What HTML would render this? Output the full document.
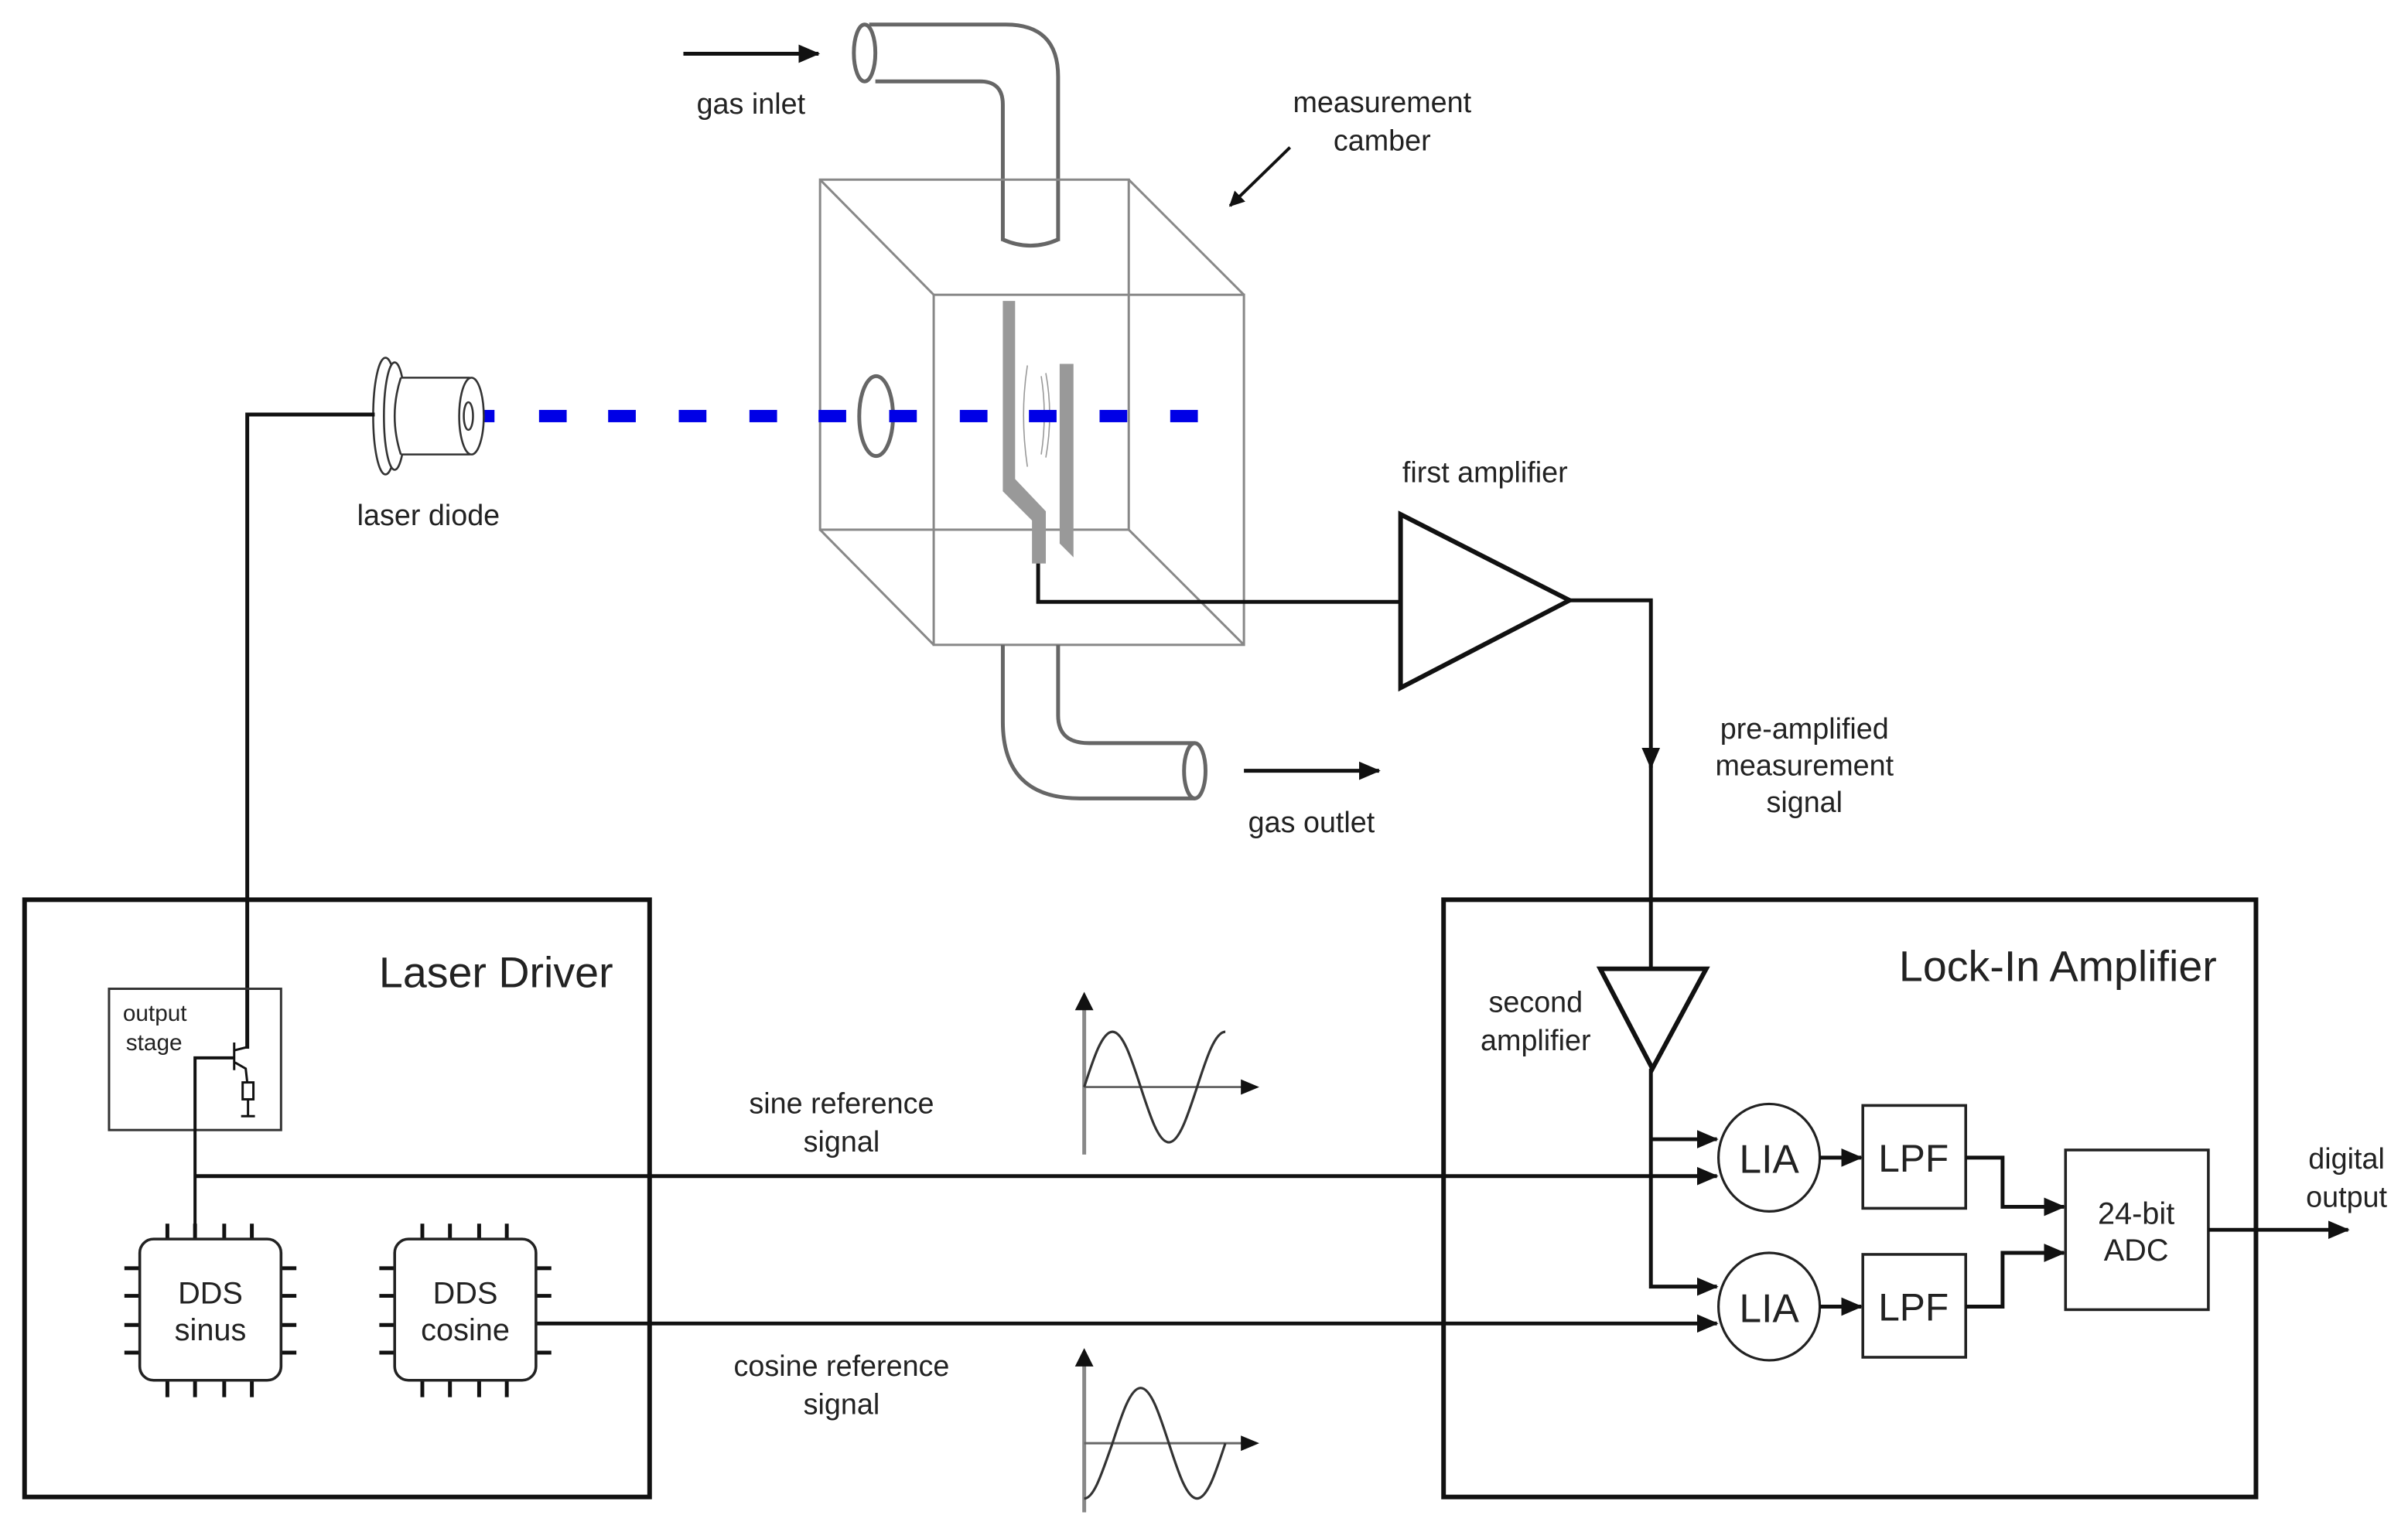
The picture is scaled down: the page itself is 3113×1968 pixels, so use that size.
<!DOCTYPE html>
<html><head><meta charset="utf-8"><style>
html,body{margin:0;padding:0;background:#fff;}
svg{display:block;}
text{font-family:"Liberation Sans",sans-serif;fill:#222;}
</style></head><body>
<svg width="3113" height="1968" viewBox="0 0 1568 991.3" preserveAspectRatio="none" xmlns="http://www.w3.org/2000/svg">
<defs>
<marker id="ah" markerWidth="10" markerHeight="10" refX="9" refY="5" orient="auto" markerUnits="userSpaceOnUse">
<path d="M0,0 L10,5 L0,10 z" fill="#111"/></marker>
<marker id="ahb" markerWidth="14" markerHeight="12" refX="13" refY="6" orient="auto" markerUnits="userSpaceOnUse">
<path d="M0,0 L14,6 L0,12 z" fill="#111"/></marker>
</defs>
<rect width="1568" height="991.3" fill="#fff"/>

<!-- gas inlet -->
<line x1="445" y1="35" x2="533" y2="35" stroke="#111" stroke-width="2.5" marker-end="url(#ahb)"/>
<text x="489" y="74" font-size="19" text-anchor="middle">gas inlet</text>

<!-- inlet pipe -->
<g fill="none" stroke="#666" stroke-width="2.5">
<path d="M566,16 L655,16 Q689,16 689,50 L689,157"/>
<path d="M570,53 L638,53 Q653,53 653,68 L653,157"/>
<path d="M653,156 Q671,164 689,156"/>
<ellipse cx="563" cy="34.5" rx="7" ry="18.5"/>
</g>

<!-- measurement camber -->
<text x="900" y="73" font-size="19" text-anchor="middle">measurement</text>
<text x="900" y="98" font-size="19" text-anchor="middle">camber</text>
<line x1="840" y1="96" x2="801" y2="134" stroke="#111" stroke-width="2" marker-end="url(#ah)"/>

<!-- cube -->
<g fill="none" stroke="#888" stroke-width="1.5">
<rect x="534" y="117" width="201" height="228"/>
<rect x="608" y="192" width="202" height="228"/>
<line x1="534" y1="117" x2="608" y2="192"/>
<line x1="735" y1="117" x2="810" y2="192"/>
<line x1="534" y1="345" x2="608" y2="420"/>
<line x1="735" y1="345" x2="810" y2="420"/>
</g>
<ellipse cx="570.5" cy="271" rx="11" ry="26" fill="none" stroke="#666" stroke-width="2.5"/>
<!-- fork -->
<polygon points="653,196 661,196 661,312 681,333 681,367 672,367 672,339 653,320" fill="#999"/>
<polygon points="690,237 699,237 699,363 690,354" fill="#999"/>
<g fill="none" stroke="#999" stroke-width="0.8">
<path d="M669,238 Q664,270 669,304"/>
<path d="M681,243 Q686,270 681,298"/>
<path d="M678,245 Q682,270 678,296"/>
</g>

<!-- laser beam -->
<g fill="#0000e6">
<rect x="305" y="267" width="17" height="8"/><rect x="351" y="267" width="18" height="8"/>
<rect x="396" y="267" width="18" height="8"/><rect x="442" y="267" width="18" height="8"/>
<rect x="488" y="267" width="18" height="8"/><rect x="533" y="267" width="18" height="8"/>
<rect x="579" y="267" width="18" height="8"/><rect x="625" y="267" width="18" height="8"/>
<rect x="670" y="267" width="18" height="8"/><rect x="716" y="267" width="18" height="8"/>
<rect x="762" y="267" width="18" height="8"/>
</g>

<!-- laser diode -->
<g fill="#fff" stroke="#333" stroke-width="1.3">
<ellipse cx="251" cy="271" rx="8" ry="38"/>
<ellipse cx="257" cy="271" rx="7" ry="35"/>
<path d="M261,246 L306,246 L306,296 L261,296 Z" stroke="none"/>
<line x1="261" y1="246" x2="306" y2="246"/><line x1="261" y1="296" x2="306" y2="296"/>
<path d="M261,246 Q253,271 261,296"/>
<ellipse cx="307" cy="271" rx="8" ry="25"/>
<ellipse cx="305" cy="271" rx="3" ry="9"/>
</g>
<text x="279" y="342" font-size="19" text-anchor="middle">laser diode</text>

<!-- wire from laser driver to diode -->
<polyline points="244,270 161,270 161,683" fill="none" stroke="#111" stroke-width="2.5"/>

<!-- signal wire to first amp -->
<polyline points="676,367 676,392 912,392" fill="none" stroke="#111" stroke-width="2.5"/>
<polygon points="912,335 1022,391 912,448" fill="#fff" stroke="#111" stroke-width="3"/>
<text x="967" y="314" font-size="19" text-anchor="middle">first amplifier</text>
<polyline points="1022,391 1075,391 1075,500" fill="none" stroke="#111" stroke-width="2.5" marker-end="url(#ahb)"/>
<line x1="1075" y1="495" x2="1075" y2="631" stroke="#111" stroke-width="2.5"/>
<text x="1175" y="481" font-size="19" text-anchor="middle">pre-amplified</text>
<text x="1175" y="505" font-size="19" text-anchor="middle">measurement</text>
<text x="1175" y="529" font-size="19" text-anchor="middle">signal</text>

<!-- lower pipe -->
<g fill="none" stroke="#666" stroke-width="2.5">
<path d="M653,420 L653,470 Q653,520 703,520 L778,520"/>
<path d="M689,420 L689,466 Q689,484 709,484 L778,484"/>
<ellipse cx="778" cy="502" rx="7" ry="18"/>
</g>
<line x1="810" y1="502" x2="898" y2="502" stroke="#111" stroke-width="2.5" marker-end="url(#ahb)"/>
<text x="854" y="542" font-size="19" text-anchor="middle">gas outlet</text>

<!-- Laser Driver box -->
<rect x="16" y="586" width="407" height="389" fill="none" stroke="#111" stroke-width="3"/>
<text x="323" y="643" font-size="28" text-anchor="middle">Laser Driver</text>
<rect x="71" y="644" width="112" height="92" fill="none" stroke="#333" stroke-width="1.5"/>
<text x="80" y="665" font-size="15">output</text>
<text x="82" y="684" font-size="15">stage</text>
<!-- transistor -->
<g fill="none" stroke="#111" stroke-width="1.5">
<line x1="152.5" y1="679" x2="152.5" y2="697"/>
<polyline points="153,684 161,682 161,683"/>
<polyline points="153,692 160,696 161,705"/>
<rect x="158" y="705" width="7" height="11"/>
<line x1="161.5" y1="716" x2="161.5" y2="727"/>
<line x1="157" y1="727" x2="166" y2="727"/>
</g>
<polyline points="152,689 127,689 127,807" fill="none" stroke="#111" stroke-width="2"/>
<!-- sine line -->
<line x1="127" y1="766" x2="1118" y2="766" stroke="#111" stroke-width="2.5" marker-end="url(#ahb)"/>
<!-- cosine line -->
<line x1="349" y1="862" x2="1118" y2="862" stroke="#111" stroke-width="2.5" marker-end="url(#ahb)"/>

<!-- DDS chips -->
<g stroke="#111" stroke-width="2.5">
<line x1="109" y1="797" x2="109" y2="807"/><line x1="127" y1="797" x2="127" y2="807"/><line x1="146" y1="797" x2="146" y2="807"/><line x1="164" y1="797" x2="164" y2="807"/>
<line x1="109" y1="899" x2="109" y2="910"/><line x1="127" y1="899" x2="127" y2="910"/><line x1="146" y1="899" x2="146" y2="910"/><line x1="164" y1="899" x2="164" y2="910"/>
<line x1="81" y1="826" x2="91" y2="826"/><line x1="81" y1="844" x2="91" y2="844"/><line x1="81" y1="863" x2="91" y2="863"/><line x1="81" y1="881" x2="91" y2="881"/>
<line x1="183" y1="826" x2="193" y2="826"/><line x1="183" y1="844" x2="193" y2="844"/><line x1="183" y1="863" x2="193" y2="863"/><line x1="183" y1="881" x2="193" y2="881"/>
<line x1="275" y1="797" x2="275" y2="807"/><line x1="293" y1="797" x2="293" y2="807"/><line x1="312" y1="797" x2="312" y2="807"/><line x1="330" y1="797" x2="330" y2="807"/>
<line x1="275" y1="899" x2="275" y2="910"/><line x1="293" y1="899" x2="293" y2="910"/><line x1="312" y1="899" x2="312" y2="910"/><line x1="330" y1="899" x2="330" y2="910"/>
<line x1="247" y1="826" x2="257" y2="826"/><line x1="247" y1="844" x2="257" y2="844"/><line x1="247" y1="863" x2="257" y2="863"/><line x1="247" y1="881" x2="257" y2="881"/>
<line x1="349" y1="826" x2="359" y2="826"/><line x1="349" y1="844" x2="359" y2="844"/><line x1="349" y1="881" x2="359" y2="881"/>
</g>
<rect x="91" y="807" width="92" height="92" rx="9" fill="#fff" stroke="#222" stroke-width="1.8"/>
<rect x="257" y="807" width="92" height="92" rx="9" fill="#fff" stroke="#222" stroke-width="1.8"/>
<text x="137" y="849" font-size="20" text-anchor="middle">DDS</text>
<text x="137" y="873" font-size="20" text-anchor="middle">sinus</text>
<text x="303" y="849" font-size="20" text-anchor="middle">DDS</text>
<text x="303" y="873" font-size="20" text-anchor="middle">cosine</text>

<text x="548" y="725" font-size="19" text-anchor="middle">sine reference</text>
<text x="548" y="750" font-size="19" text-anchor="middle">signal</text>
<text x="548" y="896" font-size="19" text-anchor="middle">cosine reference</text>
<text x="548" y="921" font-size="19" text-anchor="middle">signal</text>

<!-- sine graph -->
<line x1="706" y1="752" x2="706" y2="657" stroke="#888" stroke-width="2.5"/>
<path d="M700,658 L706,646 L712,658 z" fill="#111"/>
<line x1="706" y1="708" x2="810" y2="708" stroke="#666" stroke-width="1.5"/>
<path d="M808,703 L820,708 L808,713 z" fill="#111"/>
<path d="M706,708 C712.1,689.1 717.7,672 724.4,672 C731.1,672 736.6,689.1 742.75,708 C748.9,726.9 754.4,744 761.1,744 C767.8,744 773.3,726.9 779.5,708 C785.6,689.1 791.2,672 797.9,672" fill="none" stroke="#333" stroke-width="1.6"/>
<!-- cosine graph -->
<line x1="706" y1="985" x2="706" y2="889" stroke="#888" stroke-width="2.5"/>
<path d="M700,890 L706,878 L712,890 z" fill="#111"/>
<line x1="706" y1="940" x2="810" y2="940" stroke="#666" stroke-width="1.5"/>
<path d="M808,935 L820,940 L808,945 z" fill="#111"/>
<path d="M706,976 C712.7,976 718.2,957.1 724.4,940 C730.5,921.1 736.1,904 742.75,904 C749.4,904 755,921.1 761.1,940 C767.2,958.9 772.8,976 779.5,976 C786.2,976 791.7,958.9 797.9,940" fill="none" stroke="#333" stroke-width="1.6"/>

<!-- Lock-In box -->
<rect x="940" y="586" width="529" height="389" fill="none" stroke="#111" stroke-width="3"/>
<text x="1340" y="639" font-size="28" text-anchor="middle">Lock-In Amplifier</text>
<polygon points="1042,631 1111,631 1076,696" fill="#fff" stroke="#111" stroke-width="3"/>
<text x="1000" y="659" font-size="19" text-anchor="middle">second</text>
<text x="1000" y="684" font-size="19" text-anchor="middle">amplifier</text>
<polyline points="1075,696 1075,838 1118,838" fill="none" stroke="#111" stroke-width="2.5" marker-end="url(#ahb)"/>
<line x1="1075" y1="742" x2="1118" y2="742" stroke="#111" stroke-width="2.5" marker-end="url(#ahb)"/>

<ellipse cx="1152" cy="754" rx="33" ry="35" fill="none" stroke="#222" stroke-width="1.6"/>
<ellipse cx="1152" cy="851" rx="33" ry="35" fill="none" stroke="#222" stroke-width="1.6"/>
<text x="1152" y="764" font-size="26" text-anchor="middle">LIA</text>
<text x="1152" y="861" font-size="26" text-anchor="middle">LIA</text>
<line x1="1185" y1="754" x2="1212" y2="754" stroke="#111" stroke-width="2.5" marker-end="url(#ahb)"/>
<line x1="1185" y1="851" x2="1212" y2="851" stroke="#111" stroke-width="2.5" marker-end="url(#ahb)"/>
<rect x="1213" y="720" width="67" height="67" fill="none" stroke="#222" stroke-width="1.8"/>
<rect x="1213" y="817" width="67" height="67" fill="none" stroke="#222" stroke-width="1.8"/>
<text x="1246" y="763" font-size="25" text-anchor="middle">LPF</text>
<text x="1246" y="860" font-size="25" text-anchor="middle">LPF</text>
<polyline points="1280,754 1304,754 1304,786 1344,786" fill="none" stroke="#111" stroke-width="2.5" marker-end="url(#ahb)"/>
<polyline points="1280,851 1304,851 1304,816 1344,816" fill="none" stroke="#111" stroke-width="2.5" marker-end="url(#ahb)"/>
<rect x="1345" y="749" width="93" height="104" fill="none" stroke="#222" stroke-width="1.8"/>
<text x="1391" y="797" font-size="20" text-anchor="middle">24-bit</text>
<text x="1391" y="821" font-size="20" text-anchor="middle">ADC</text>
<line x1="1438" y1="801" x2="1529" y2="801" stroke="#111" stroke-width="2.5" marker-end="url(#ahb)"/>
<text x="1528" y="761" font-size="19" text-anchor="middle">digital</text>
<text x="1528" y="786" font-size="19" text-anchor="middle">output</text>
</svg>
</body></html>
